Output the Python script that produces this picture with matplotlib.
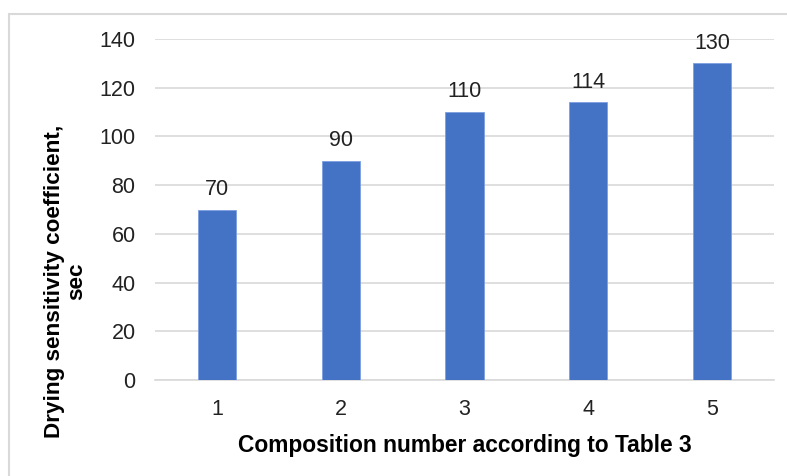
import matplotlib.pyplot as plt
from matplotlib.patches import Rectangle

plt.rcParams['font.family'] = ['Liberation Sans', 'DejaVu Sans']

compositions = ['1', '2', '3', '4', '5']
coefficients = [70, 90, 110, 114, 130]
y_ticks = [0, 20, 40, 60, 80, 100, 120, 140]

fig = plt.figure(figsize=(7.87, 4.76), dpi=100)
ax = fig.add_axes([155 / 787, 1 - 380 / 476, (774 - 155) / 787, (380 - 39) / 476])

# outer frame, right and bottom edges fall off the canvas
fig.patches.append(Rectangle((9 / 787, -0.1), 1.2, (476 - 14) / 476 + 0.1,
                             transform=fig.transFigure, fill=False,
                             edgecolor='#d9d9d9', linewidth=1.5))

x = range(len(compositions))
bars = ax.bar(x, coefficients, width=0.31, color='#4472c4',
              edgecolor='#7d9ee0', linewidth=0.6, zorder=3)
for xi, v in zip(x, coefficients):
    ax.annotate(str(v), (xi, v), xytext=(0, 7), textcoords='offset points',
                ha='center', va='bottom', fontsize=15.5, color='#222222')

ax.set_xlim(-0.5, len(compositions) - 0.5)
ax.set_ylim(0, 140)
ax.set_yticks(y_ticks)
ax.set_xticks(list(x))
ax.set_xticklabels(compositions)
ax.tick_params(axis='both', length=0, labelsize=15.5, labelcolor='#222222')
ax.tick_params(axis='y', pad=14)
ax.tick_params(axis='x', pad=13.5)
ax.yaxis.grid(True, color='#d9d9d9', linewidth=1.2, zorder=0)
for side in ['top', 'right', 'left']:
    ax.spines[side].set_visible(False)
ax.spines['bottom'].set_color('#d9d9d9')
ax.spines['bottom'].set_linewidth(1.2)

ax.set_xlabel('Composition number according to Table 3', fontsize=16.4,
              fontweight='bold', labelpad=10)
ax.set_ylabel('Drying sensitivity coefficient,\nsec', fontsize=16.2,
              fontweight='bold', linespacing=1.05)
ax.yaxis.set_label_coords(-0.11, 0.29)

fig.savefig('out.png', dpi=100)
